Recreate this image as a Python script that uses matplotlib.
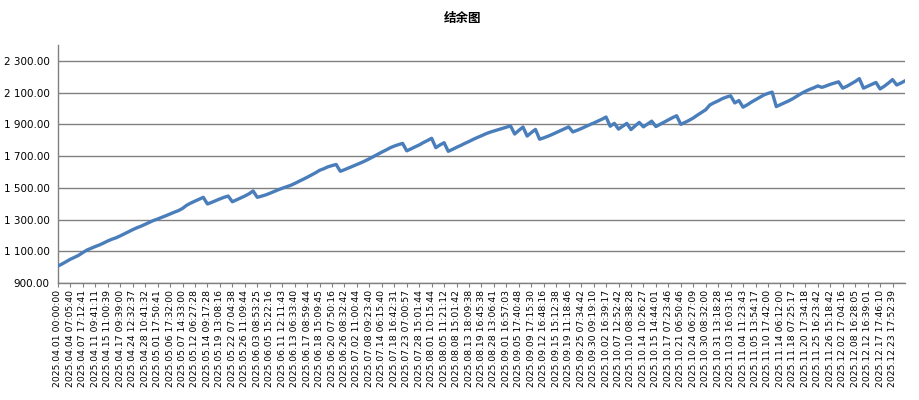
import matplotlib
matplotlib.use("Agg")
import matplotlib.pyplot as plt
from matplotlib.ticker import FuncFormatter

plt.rcParams['font.family'] = ['DejaVu Sans', 'Noto Sans CJK SC']

# 结余 (balance) sampled along the trade sequence
balance = [
    1007, 1020, 1035, 1050, 1062, 1075, 1092, 1108, 1119, 1130,
    1140, 1152, 1165, 1176, 1185, 1197, 1210, 1223, 1236, 1248,
    1258, 1270, 1282, 1294, 1303, 1314, 1324, 1335, 1346, 1356,
    1370, 1390, 1404, 1416, 1428, 1440, 1398, 1408, 1419, 1430,
    1440, 1448, 1412, 1424, 1436, 1448, 1462, 1480, 1440, 1447,
    1455, 1465, 1476, 1487, 1497, 1506, 1515, 1527, 1540, 1553,
    1566, 1580, 1594, 1610, 1620, 1632, 1640, 1647, 1604, 1614,
    1625, 1636, 1647, 1658, 1670, 1683, 1697, 1711, 1725, 1738,
    1752, 1763, 1772, 1780, 1733, 1745, 1758, 1770, 1785, 1798,
    1812, 1753, 1770, 1784, 1730, 1742, 1755, 1767, 1780, 1792,
    1805, 1817, 1828, 1840, 1850, 1858, 1866, 1874, 1882, 1890,
    1839, 1862, 1883, 1826, 1848, 1868, 1806, 1815, 1825, 1836,
    1848, 1860, 1872, 1884, 1852, 1862, 1873, 1885, 1897, 1908,
    1920, 1932, 1946, 1888, 1906, 1870, 1888, 1906, 1867, 1890,
    1912, 1884, 1902, 1920, 1886, 1900, 1914, 1928, 1942, 1954,
    1900, 1912, 1925, 1940, 1958, 1975, 1992, 2022, 2036, 2048,
    2062, 2072, 2080, 2035, 2050, 2008, 2023, 2040, 2055, 2070,
    2085, 2095, 2103, 2012, 2024, 2036, 2048, 2062, 2078, 2094,
    2108, 2120, 2130, 2142, 2133, 2142, 2152, 2160, 2168, 2128,
    2140, 2155, 2170, 2188, 2128, 2140, 2152, 2164, 2123, 2140,
    2160, 2182, 2148, 2160, 2174,
]

# y-axis ticks
y_ticks = [900, 1100, 1300, 1500, 1700, 1900, 2100, 2300]

# x-axis labels (one every 3 samples)
tick_labels = [
    "2025.04.01 00:00:00", "2025.04.04 07:05:40", "2025.04.07 17:12:41",
    "2025.04.11 09:41:11", "2025.04.15 11:00:39", "2025.04.17 09:39:00",
    "2025.04.24 12:32:37", "2025.04.28 10:41:32", "2025.05.01 17:50:41",
    "2025.05.06 17:32:00", "2025.05.07 14:33:00", "2025.05.12 06:27:28",
    "2025.05.14 09:17:28", "2025.05.19 13:08:16", "2025.05.22 07:04:38",
    "2025.05.26 11:09:44", "2025.06.03 08:53:25", "2025.06.05 15:22:16",
    "2025.06.11 12:11:43", "2025.06.13 06:33:40", "2025.06.17 08:59:44",
    "2025.06.18 15:09:45", "2025.06.20 07:50:16", "2025.06.26 08:32:42",
    "2025.07.02 11:00:44", "2025.07.08 09:23:40", "2025.07.14 06:15:40",
    "2025.07.18 16:42:31", "2025.07.23 07:00:57", "2025.07.28 15:01:44",
    "2025.08.01 10:15:44", "2025.08.05 11:21:12", "2025.08.08 15:01:42",
    "2025.08.13 18:09:38", "2025.08.19 16:45:38", "2025.08.28 13:06:41",
    "2025.09.01 16:57:03", "2025.09.05 17:40:48", "2025.09.09 17:15:30",
    "2025.09.12 16:48:16", "2025.09.15 15:12:38", "2025.09.19 11:18:46",
    "2025.09.25 07:34:42", "2025.09.30 09:19:10", "2025.10.02 16:39:17",
    "2025.10.07 12:52:42", "2025.10.10 08:38:28", "2025.10.14 10:26:27",
    "2025.10.15 14:44:01", "2025.10.17 07:23:46", "2025.10.21 06:50:46",
    "2025.10.24 06:27:09", "2025.10.30 08:32:00", "2025.10.31 13:18:28",
    "2025.11.03 16:03:16", "2025.11.04 11:23:43", "2025.11.05 13:54:17",
    "2025.11.10 17:42:00", "2025.11.14 06:12:00", "2025.11.18 07:25:17",
    "2025.11.20 17:34:18", "2025.11.25 16:23:42", "2025.11.26 15:18:42",
    "2025.12.02 17:04:16", "2025.12.08 16:28:05", "2025.12.12 16:39:01",
    "2025.12.17 17:46:10", "2025.12.23 17:52:39",
]
label_step = 3

fig = plt.figure(figsize=(9.2, 4.0), dpi=100)
ax = fig.add_axes([0.063, 0.2925, 0.9207, 0.595])

ax.plot(range(len(balance)), balance, color='#4a7ebb', linewidth=2.4,
        solid_joinstyle='round', zorder=3)

ax.set_xlim(0, len(balance) - 1)
ax.set_ylim(900, 2400)
ax.set_yticks(y_ticks)
ax.yaxis.set_major_formatter(FuncFormatter(lambda v, p: f"{v:,.2f}".replace(",", " ")))
ax.grid(axis='y', color='#808080', linewidth=1.0)
ax.set_axisbelow(True)

ax.set_xticks(range(0, label_step * len(tick_labels), label_step))
ax.set_xticklabels(tick_labels, rotation=90, fontsize=6.7)
ax.tick_params(axis='x', length=3, color='#808080', pad=2)
ax.tick_params(axis='y', length=0, labelsize=7.5, pad=6)

for side in ('top', 'right'):
    ax.spines[side].set_visible(False)
for side in ('left', 'bottom'):
    ax.spines[side].set_color('#808080')
    ax.spines[side].set_linewidth(1.0)

fig.text(0.503, 0.955, "结余图", ha='center', va='center', fontsize=9,
         fontweight='bold', family=['Noto Sans CJK SC', 'DejaVu Sans'])

fig.savefig("out.png", dpi=100)
